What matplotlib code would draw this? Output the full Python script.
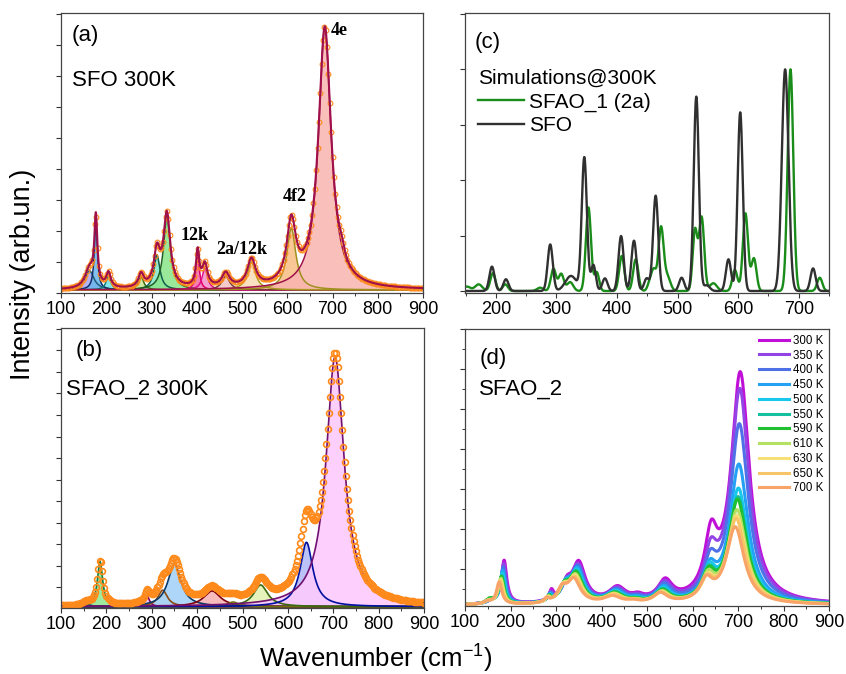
import numpy as np
import matplotlib.pyplot as plt
from matplotlib.ticker import MultipleLocator

plt.rcParams['font.family'] = ['Liberation Sans', 'DejaVu Sans']
plt.rcParams['mathtext.fontset'] = 'custom'
plt.rcParams['mathtext.rm'] = 'Liberation Sans'
plt.rcParams['mathtext.it'] = 'Liberation Sans:italic'
plt.rcParams['mathtext.default'] = 'regular'
plt.rcParams['axes.unicode_minus'] = False

# ---- (a) SFO 300 K: Lorentzian components (centre, height, fwhm)
sfo_pos = [163, 177, 205, 277, 312, 334, 402, 418, 464, 521, 609, 683]
sfo_amp = [0.62, 2.20, 0.48, 0.43, 1.13, 2.37, 1.15, 0.73, 0.46, 0.89, 1.99, 8.44]
sfo_fwhm = [24, 8, 12, 14, 16, 18, 9, 14, 20, 22, 24, 34]
sfo_fill = ['#a8a8f4', '#6ab4ec', '#6ee4e4', '#c8e890', '#80e8cc', '#88e488', '#f468a8',
            '#f490c8', '#f4c4c4', '#f8dcb8', '#f8bc84', '#f8b4b0']
sfo_edge = ['#20607a', '#10306a', '#107a7a', '#3a6a10', '#10604a', '#206020', '#e0006a',
            '#e0108a', '#7a3a3a', '#a89a20', '#a09020', '#a0104a']
# weak shoulder of the 4e band, only part of the total fit
sfo_shoulder = (720, 0.30, 16)
sfo_labels = ['12k', '2a/12k', '4f2', '4e']
sfo_label_x = [394, 500, 616, 714]
sfo_label_y = [1.87, 1.42, 3.1, 8.46]

# ---- (b) SFAO_2 300 K components
sfao_pos = [155, 186, 290, 324, 350, 433, 479, 540, 641, 704]
sfao_amp = [0.15, 2.10, 0.50, 0.77, 1.98, 0.73, 0.22, 1.01, 2.99, 11.6]
sfao_fwhm = [20, 14, 12, 25, 35, 45, 30, 38, 34, 48]
sfao_fill = ['#a8ecec', '#94e894', '#f0c4f0', '#f0d4b4', '#a4d2f8', '#f8b4b4',
             '#f4f0b4', '#e4f2b4', '#b4bcf8', '#fccafc']
sfao_edge = ['#106060', '#108040', '#800060', '#8a4a10', '#0a3a6a', '#800010',
             '#707010', '#3a6a10', '#0010a0', '#701070']

# ---- (c) simulated spectra (Gaussian lines)
sim_sfo_pos = [193.5, 216.6, 289.7, 324, 346, 361, 380, 406.7, 428, 449, 463.8, 506.7,
               530.9, 548, 584, 603.4, 677.6, 723.7]
sim_sfo_int = [0.11, 0.053, 0.21, 0.068, 0.60, 0.117, 0.057, 0.248, 0.227, 0.057, 0.43,
               0.06, 0.877, 0.026, 0.143, 0.806, 1.0, 0.102]
sim_sfo_fwhm = [10, 10, 10, 22, 10, 9, 10, 10, 10, 10, 10, 10, 10, 12, 10, 10, 13, 10]
sim_sfao_pos = [152, 171.5, 195, 215.5, 273, 295, 307.8, 322.6, 352.8, 366.6, 407.8, 430.9,
                454.5, 461, 472.6, 483, 528.7, 539.7, 559, 594.6, 612, 626, 686.4, 734.7]
sim_sfao_int = [0.02, 0.03, 0.08, 0.03, 0.015, 0.10, 0.077, 0.04, 0.377, 0.084, 0.158,
                0.143, 0.04, 0.087, 0.283, 0.065, 0.272, 0.332, 0.035, 0.095, 0.35, 0.147,
                1.0, 0.06]
sim_sfao_fwhm = [14, 14, 10, 10, 12, 10, 10, 12, 10, 9, 10, 10, 9, 9, 10, 12, 9, 10, 14, 10,
                 10, 10, 11, 10]

# ---- (d) SFAO_2 temperature series
temps = ['300 K', '350 K', '400 K', '450 K', '500 K', '550 K', '590 K', '610 K', '630 K',
         '650 K', '700 K']
t_colors = ['#c010d8', '#9444e4', '#5070e8', '#24a0f4', '#18c8ec', '#14c0a0', '#20c030',
            '#b4e064', '#f8e078', '#f8c468', '#f8a468']
t_shift = [0, -1, -2, -3, -4, -5, -6, -7, -8, -9, -11]
amp_160 = [0.07, 0.07, 0.07, 0.08, 0.08, 0.09, 0.12, 0.08, 0.08, 0.07, 0.07]
amp_186 = [1.08, 1.00, 0.92, 0.84, 0.77, 0.70, 0.68, 0.64, 0.60, 0.57, 0.55]
amp_290 = [0.25, 0.20, 0.18, 0.16, 0.15, 0.14, 0.13, 0.12, 0.11, 0.10, 0.10]
amp_325 = [0.38, 0.37, 0.36, 0.36, 0.35, 0.35, 0.34, 0.33, 0.33, 0.32, 0.32]
amp_350 = [0.98, 0.92, 0.88, 0.84, 0.80, 0.76, 0.74, 0.69, 0.66, 0.63, 0.60]
amp_435 = [0.36, 0.34, 0.32, 0.30, 0.28, 0.26, 0.25, 0.23, 0.22, 0.21, 0.18]
amp_480 = [0.11, 0.10, 0.09, 0.08, 0.07, 0.06, 0.06, 0.05, 0.05, 0.05, 0.05]
amp_540 = [0.49, 0.45, 0.42, 0.38, 0.35, 0.32, 0.30, 0.28, 0.26, 0.25, 0.25]
amp_641 = [1.40, 1.00, 0.82, 0.70, 0.70, 0.65, 0.63, 0.58, 0.52, 0.50, 0.50]
amp_705 = [5.73, 5.34, 4.47, 3.47, 2.87, 2.66, 2.60, 2.34, 2.20, 2.13, 1.92]
d_pos = [160, 186, 290, 324, 350, 435, 480, 540, 641, 705]
d_fwhm = [20, 14, 12, 25, 35, 45, 30, 38, 34, 48]

BASE = 0.1


def lorentz(x, c, h, w):
    return h / (1 + ((x - c) / (w / 2)) ** 2)


def gauss(x, c, h, w):
    return h * np.exp(-4 * np.log(2) * ((x - c) / w) ** 2)


def style_axis(ax, xlim, ylim, ymajor, yminor=None):
    ax.set_xlim(*xlim)
    ax.set_ylim(*ylim)
    ax.xaxis.set_major_locator(MultipleLocator(100))
    ax.xaxis.set_minor_locator(MultipleLocator(50))
    ax.yaxis.set_major_locator(MultipleLocator(ymajor))
    if yminor:
        ax.yaxis.set_minor_locator(MultipleLocator(yminor))
    ax.tick_params(which='major', direction='out', length=3.5, width=0.8,
                   labelsize=13, labelleft=False, pad=2.5, colors='#333333',
                   labelcolor='black')
    ax.tick_params(which='minor', direction='out', length=2, width=0.7, colors='#333333')
    for s in ax.spines.values():
        s.set_color('#444444')
        s.set_linewidth(0.9)


fig = plt.figure(figsize=(8.46, 6.74), dpi=100)
axa = fig.add_axes([61 / 846, 1 - 293 / 674, 362 / 846, 280 / 674])
axb = fig.add_axes([61 / 846, 1 - 608 / 674, 363 / 846, 280 / 674])
axc = fig.add_axes([465 / 846, 1 - 293 / 674, 364 / 846, 280 / 674])
axd = fig.add_axes([465 / 846, 1 - 606 / 674, 364 / 846, 277 / 674])

# (a)
x = np.linspace(100, 900, 1601)
xs = np.arange(100, 901, 3.0)
fit = np.full_like(x, BASE) + lorentz(x, *sfo_shoulder)
dat = np.full_like(xs, BASE) + lorentz(xs, *sfo_shoulder)
for c, h, w, fc, ec in zip(sfo_pos, sfo_amp, sfo_fwhm, sfo_fill, sfo_edge):
    comp = lorentz(x, c, h, w)
    fit += comp
    dat += lorentz(xs, c, h, w)
    axa.fill_between(x, BASE, BASE + comp, color=fc, alpha=0.85, lw=0)
    axa.plot(x, BASE + comp, color=ec, lw=1.1)
axa.plot(xs, dat, 'o', mfc='none', mec='#ff8a1c', ms=3.4, mew=0.8)
axa.plot(x, fit, color='#a0104a', lw=1.5)
for t, tx, ty in zip(sfo_labels, sfo_label_x, sfo_label_y):
    axa.text(tx, ty, t, family='Liberation Serif', weight='bold', fontsize=13,
             ha='center', va='center')
axa.text(0.03, 0.921, '(a)', transform=axa.transAxes, fontsize=16, va='center')
axa.text(0.03, 0.76, 'SFO 300K', transform=axa.transAxes, fontsize=16, va='center')
style_axis(axa, (100, 900), (0, 9.04), 1)

# (b)
xs_b = np.arange(100, 901, 2.5)
dat_b = np.full_like(xs_b, BASE)
for c, h, w, fc, ec in zip(sfao_pos, sfao_amp, sfao_fwhm, sfao_fill, sfao_edge):
    comp = lorentz(x, c, h, w)
    dat_b += lorentz(xs_b, c, h, w)
    axb.fill_between(x, BASE, BASE + comp, color=fc, alpha=0.9, lw=0)
    axb.plot(x, BASE + comp, color=ec, lw=1.2)
axb.plot(xs_b, dat_b, 'o', mfc='none', mec='#ff8a1c', ms=4.2, mew=1.2)
axb.text(0.039, 0.921, '(b)', transform=axb.transAxes, fontsize=16, va='center')
axb.text(0.015, 0.782, 'SFAO_2 300K', transform=axb.transAxes, fontsize=16, va='center')
style_axis(axb, (100, 900), (0.04, 13.04), 1)

# (c)
xc = np.linspace(145, 755, 2000)
sim_sfo = np.zeros_like(xc)
for c, h, w in zip(sim_sfo_pos, sim_sfo_int, sim_sfo_fwhm):
    sim_sfo += gauss(xc, c, h, w)
sim_sfao = np.zeros_like(xc)
for c, h, w in zip(sim_sfao_pos, sim_sfao_int, sim_sfao_fwhm):
    sim_sfao += gauss(xc, c, h, w)
axc.plot(xc, sim_sfao, color='#1a8c1a', lw=1.7, label='SFAO_1 (2a)')
axc.plot(xc, sim_sfo, color='#303030', lw=1.7, label='SFO')
axc.legend(title='Simulations@300K', loc='upper left', bbox_to_anchor=(0.035, 0.80),
           frameon=False, fontsize=15, title_fontsize=15, alignment='left',
           handlelength=2.2, handletextpad=0.25, labelspacing=0.22, borderpad=0,
           borderaxespad=0)
axc.text(0.027, 0.896, '(c)', transform=axc.transAxes, fontsize=16, va='center')
style_axis(axc, (149, 750), (-0.009, 1.254), 0.25)

# (d)
for i, (lab, col) in enumerate(zip(temps, t_colors)):
    amps = [amp_160[i], amp_186[i], amp_290[i], amp_325[i], amp_350[i], amp_435[i],
            amp_480[i], amp_540[i], amp_641[i], amp_705[i]]
    y = np.full_like(x, BASE)
    for c, h, w in zip(d_pos, amps, d_fwhm):
        y += lorentz(x, c + t_shift[i], h, w)
    axd.plot(x, y, color=col, lw=2.2, label=lab)
axd.legend(loc='upper right', frameon=False, fontsize=8.3, handlelength=2.6,
           handletextpad=0.3, labelspacing=0.24, borderaxespad=0.3, borderpad=0.2)
axd.text(0.041, 0.895, '(d)', transform=axd.transAxes, fontsize=16, va='center')
axd.text(0.038, 0.783, 'SFAO_2', transform=axd.transAxes, fontsize=16, va='center')
style_axis(axd, (100, 900), (0.075, 7.0), 1, 0.5)

fig.text(23 / 846, 1 - 274 / 674, 'Intensity (arb.un.)', rotation=90, fontsize=19.5,
         ha='center', va='center')
fig.text(376 / 846, 1 - 668 / 674, 'Wavenumber (cm$^{-1}$)', fontsize=18.5,
         ha='center', va='baseline')

fig.savefig('out.png', dpi=100)
